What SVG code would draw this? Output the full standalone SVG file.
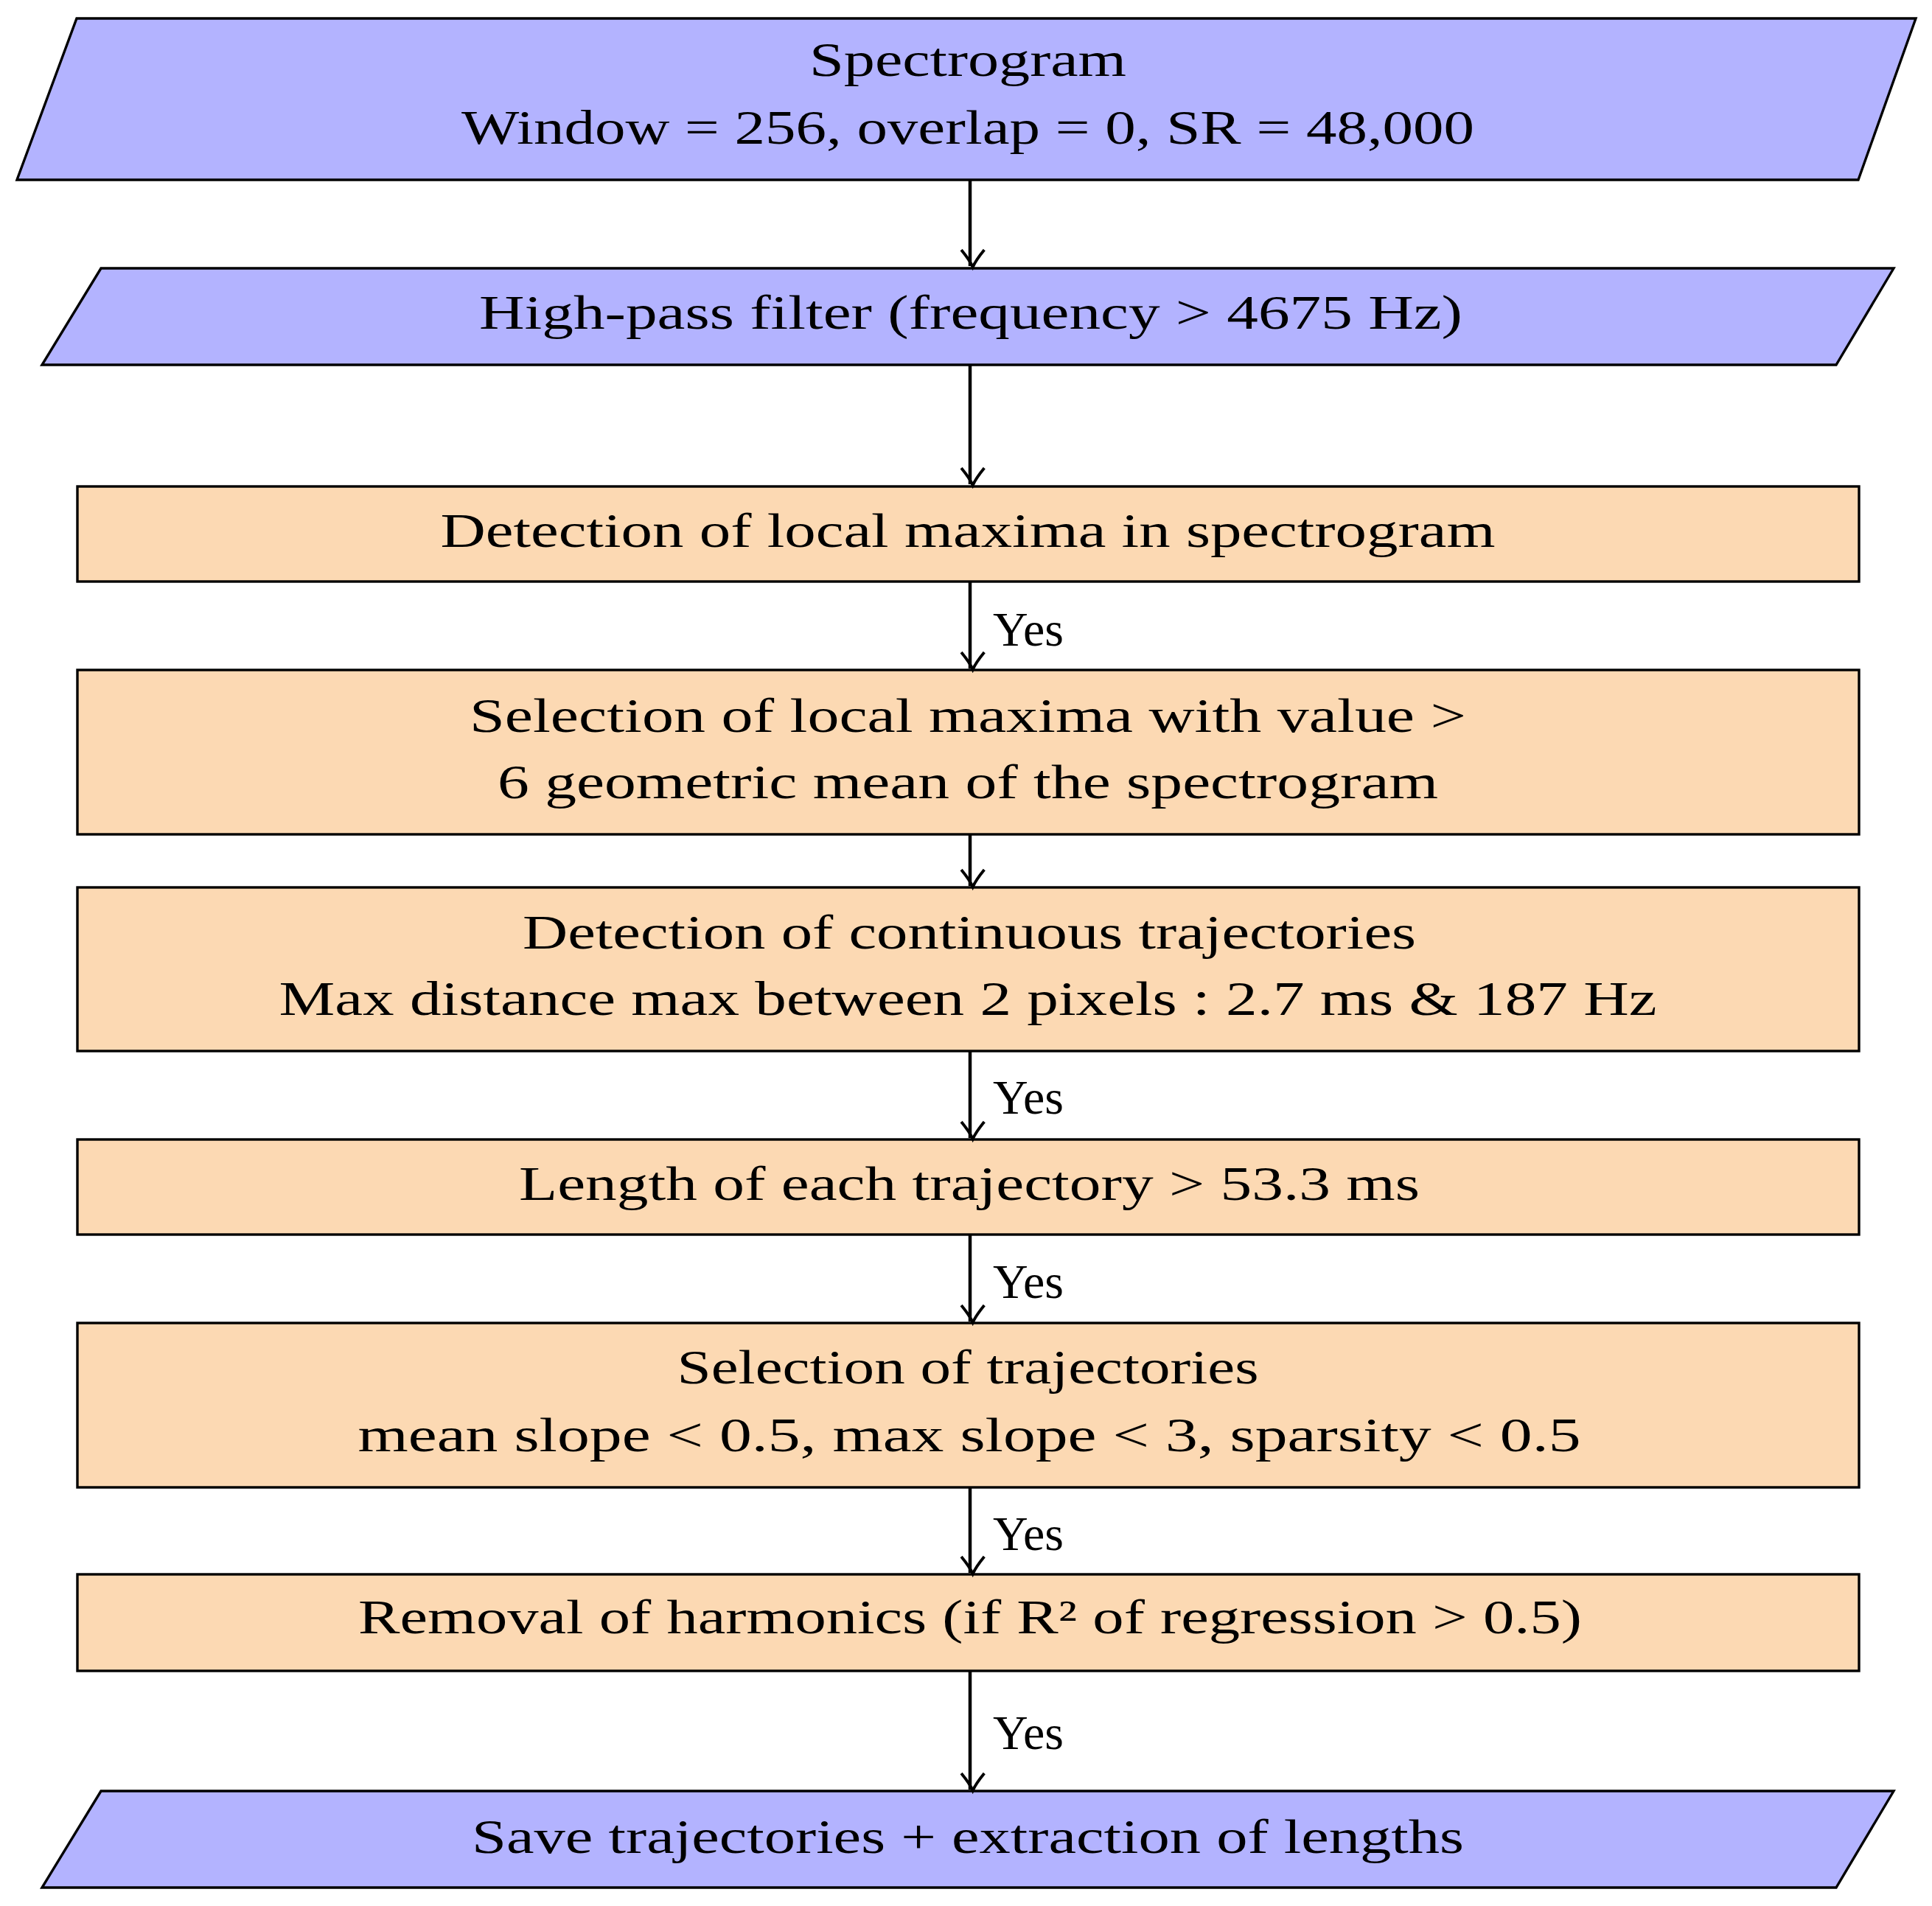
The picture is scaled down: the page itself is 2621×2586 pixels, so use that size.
<svg xmlns="http://www.w3.org/2000/svg" width="2621" height="2586" viewBox="0 0 2621 2586">
<style>
text{font-family:"Liberation Serif","DejaVu Serif",serif;font-size:66px;fill:#000;text-anchor:middle;dominant-baseline:central}
.io{fill:#b3b3ff;stroke:#000;stroke-width:3.4}
.pr{fill:#fcd9b3;stroke:#000;stroke-width:3.4}
.c{stroke:#000;stroke-width:4.5;fill:none;marker-end:url(#ah)}
.y{text-anchor:start}
</style>
<defs><marker id="ah" markerWidth="10" markerHeight="10" refX="9" refY="5" orient="auto" markerUnits="userSpaceOnUse" viewBox="0 0 10 10" style="overflow:visible"><path d="M-8,-7 Q3,2 10,5 Q3,8 -8,17" transform="scale(1.3) translate(-2,-4)" fill="none" stroke="#000" stroke-width="3"/></marker></defs>
<g id="n1"><polygon class="io" points="104,25 2599,25 2521,244 23,244"/><text x="1313" y="80" textLength="430" lengthAdjust="spacingAndGlyphs">Spectrogram</text><text x="1313" y="172" textLength="1374" lengthAdjust="spacingAndGlyphs">Window = 256, overlap = 0, SR = 48,000</text></g>
<g id="n2"><polygon class="io" points="137,364 2569,364 2491,495 57,495"/><text x="1317" y="423" textLength="1334" lengthAdjust="spacingAndGlyphs">High-pass filter (frequency &gt; 4675 Hz)</text></g>
<g id="n3"><rect class="pr" x="105" y="660" width="2417" height="129"/><text x="1313" y="719" textLength="1431" lengthAdjust="spacingAndGlyphs">Detection of local maxima in spectrogram</text></g>
<g id="n4"><rect class="pr" x="105" y="909" width="2417" height="223"/><text x="1313" y="970" textLength="1352" lengthAdjust="spacingAndGlyphs">Selection of local maxima with value &gt;</text><text x="1313" y="1060" textLength="1276" lengthAdjust="spacingAndGlyphs">6 geometric mean of the spectrogram</text></g>
<g id="n5"><rect class="pr" x="105" y="1204" width="2417" height="222"/><text x="1315" y="1264" textLength="1212" lengthAdjust="spacingAndGlyphs">Detection of continuous trajectories</text><text x="1313" y="1354" textLength="1869" lengthAdjust="spacingAndGlyphs">Max distance max between 2 pixels : 2.7 ms &amp; 187 Hz</text></g>
<g id="n6"><rect class="pr" x="105" y="1546" width="2417" height="129"/><text x="1315" y="1605" textLength="1222" lengthAdjust="spacingAndGlyphs">Length of each trajectory &gt; 53.3 ms</text></g>
<g id="n7"><rect class="pr" x="105" y="1795" width="2417" height="223"/><text x="1313" y="1854" textLength="789" lengthAdjust="spacingAndGlyphs">Selection of trajectories</text><text x="1315" y="1946" textLength="1659" lengthAdjust="spacingAndGlyphs">mean slope &lt; 0.5, max slope &lt; 3, sparsity &lt; 0.5</text></g>
<g id="n8"><rect class="pr" x="105" y="2136" width="2417" height="131"/><text x="1316" y="2193" textLength="1660" lengthAdjust="spacingAndGlyphs">Removal of harmonics (if R² of regression &gt; 0.5)</text></g>
<g id="n9"><polygon class="io" points="137,2430 2569,2430 2491,2561 57,2561"/><text x="1313" y="2491" textLength="1346" lengthAdjust="spacingAndGlyphs">Save trajectories + extraction of lengths</text></g>
<g id="connectors">
<line class="c" x1="1316" y1="244" x2="1316" y2="361"/>
<line class="c" x1="1316" y1="495" x2="1316" y2="657"/>
<line class="c" x1="1316" y1="789" x2="1316" y2="907"/>
<line class="c" x1="1316" y1="1132" x2="1316" y2="1202"/>
<line class="c" x1="1316" y1="1426" x2="1316" y2="1544"/>
<line class="c" x1="1316" y1="1675" x2="1316" y2="1793"/>
<line class="c" x1="1316" y1="2018" x2="1316" y2="2134"/>
<line class="c" x1="1316" y1="2267" x2="1316" y2="2428"/>
<text class="y" x="1347" y="853">Yes</text>
<text class="y" x="1347" y="1488">Yes</text>
<text class="y" x="1347" y="1738">Yes</text>
<text class="y" x="1347" y="2080">Yes</text>
<text class="y" x="1347" y="2350">Yes</text>
</g>
</svg>
